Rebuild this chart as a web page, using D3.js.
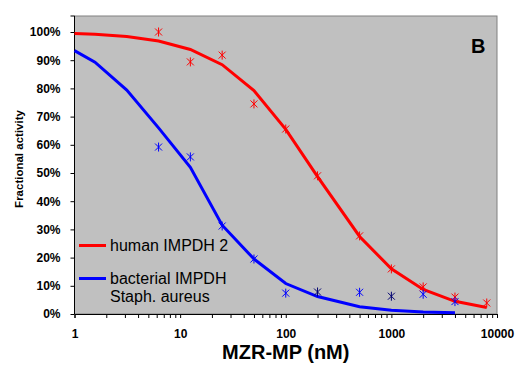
<!DOCTYPE html>
<html>
<head>
<meta charset="utf-8">
<script src="https://cdn.jsdelivr.net/npm/d3@7"></script>
<style>
    body { margin: 0; background: white; }
    text { font-family: Arial, "Liberation Sans", sans-serif; }
</style>
</head>
<body>
<div id="chart"></div>
<script>
// concentrations (nM)
const doses = [6.25, 12.5, 25, 50, 100, 200, 500, 1000, 2000, 4000, 8000];
const humanPts = [1.00, 0.894, 0.918, 0.745, 0.656, 0.49, 0.277, 0.16, 0.096, 0.06, 0.039];
const bactDoses = [6.25, 12.5, 25, 50, 100, 200, 500, 1000, 2000, 4000];
const bactPts = [0.592, 0.557, 0.312, 0.195, 0.074, 0.078, 0.077, 0.063, 0.07, 0.044];
const bactColor = ["blue", "blue", "blue", "blue", "blue", "#000070", "blue", "#000070", "blue", "blue"];

// fitted curves
const humanFitX = [1, 1.5625, 3.125, 6.25, 12.5, 25, 50, 100, 200, 500, 1000, 2000, 4000, 8000];
const humanFitY = [0.995, 0.992, 0.984, 0.968, 0.938, 0.884, 0.792, 0.655, 0.487, 0.275, 0.16, 0.087, 0.045, 0.023];
const bactFitX = [1, 1.5625, 3.125, 6.25, 12.5, 25, 50, 100, 200, 500, 1000, 2000, 4000];
const bactFitY = [0.934, 0.893, 0.794, 0.66, 0.52, 0.315, 0.195, 0.108, 0.062, 0.026, 0.013, 0.007, 0.004];

const yTicks = [0, 0.1, 0.2, 0.3, 0.4, 0.5, 0.6, 0.7, 0.8, 0.9, 1.0];
const xMajor = [1, 10, 100, 1000, 10000];

const width = 523;
const height = 376;
const plot = {l: 74.5, r: 497, t: 16, b: 314};

const svg = d3.select("#chart")
    .append("svg")
    .attr("width", width)
    .attr("height", height);

const xScale = d3.scaleLog()
    .domain([1, 10000])
    .range([plot.l, plot.r]);

const yScale = d3.scaleLinear()
    .domain([0, 1])
    .range([plot.b, 32]);

//plot background
svg.append("rect")
    .attr("x", plot.l)
    .attr("y", plot.t)
    .attr("width", plot.r - plot.l)
    .attr("height", plot.b - plot.t)
    .attr("fill", "#c0c0c0")
    .attr("stroke", "#808080")
    .attr("stroke-width", 1);

//x axis, with minor ticks
const xTickVals = [];
for (let d = 1; d < 10000; d *= 10) {
    for (let k = 1; k < 10; k++) xTickVals.push(d * k);
}
xTickVals.push(10000);

const x_axis = d3.axisBottom(xScale)
    .tickValues(xTickVals)
    .tickSize(4)
    .tickPadding(11)
    .tickFormat(d => xMajor.includes(d) ? d3.format("d")(d) : "");
const gx = svg.append("g")
    .attr("transform", `translate(0, ${plot.b})`)
    .call(x_axis);
gx.select(".domain").attr("stroke", "black");
gx.selectAll("text")
    .attr("font-size", "12px")
    .attr("font-weight", "bold")
    .attr("fill", "black");

//y axis
const y_axis = d3.axisLeft(yScale)
    .tickValues(yTicks)
    .tickSize(4)
    .tickPadding(10)
    .tickFormat(d3.format(".0%"));
const gy = svg.append("g")
    .attr("transform", `translate(${plot.l}, 0)`)
    .call(y_axis);
gy.select(".domain").attr("d", `M-4,${plot.t}H0V${plot.b}`).attr("stroke", "black");
gy.selectAll("text")
    .attr("font-size", "12px")
    .attr("font-weight", "bold")
    .attr("fill", "black");

//titles
svg.append("text")
    .attr("x", (plot.l + plot.r) / 2)
    .attr("y", 358.5)
    .attr("text-anchor", "middle")
    .attr("font-size", "20px")
    .attr("font-weight", "bold")
    .text("MZR-MP (nM)");

svg.append("text")
    .attr("transform", "rotate(-90)")
    .attr("x", -159)
    .attr("y", 22.5)
    .attr("text-anchor", "middle")
    .attr("font-size", "11.5px")
    .attr("font-weight", "bold")
    .text("Fractional activity");

svg.append("text")
    .attr("x", 471)
    .attr("y", 53)
    .attr("font-size", "20px")
    .attr("font-weight", "bold")
    .text("B");

//fitted curves
const makeLine = d3.line()
    .x(d => xScale(d[0]))
    .y(d => yScale(d[1]));

svg.append("path")
    .attr("fill", "none")
    .attr("stroke", "red")
    .attr("stroke-width", 3)
    .attr("d", makeLine(d3.zip(humanFitX, humanFitY)));

svg.append("path")
    .attr("fill", "none")
    .attr("stroke", "blue")
    .attr("stroke-width", 3)
    .attr("d", makeLine(d3.zip(bactFitX, bactFitY)));

//asterisk markers
const star = "M-3.5,-3.5L3.5,3.5M-3.5,3.5L3.5,-3.5M0,-4.5L0,4.5";
svg.selectAll(".hPt")
    .data(d3.zip(doses, humanPts))
    .join("path")
    .attr("class", "hPt")
    .attr("transform", d => `translate(${xScale(d[0])}, ${yScale(d[1])})`)
    .attr("d", star)
    .attr("stroke", "red")
    .attr("stroke-width", 1)
    .attr("fill", "none");

svg.selectAll(".bPt")
    .data(d3.zip(bactDoses, bactPts, bactColor))
    .join("path")
    .attr("class", "bPt")
    .attr("transform", d => `translate(${xScale(d[0])}, ${yScale(d[1])})`)
    .attr("d", star)
    .attr("stroke", d => d[2])
    .attr("stroke-width", 1)
    .attr("fill", "none");

//legend
const legend = [
    {color: "red", y: 245.5, lines: ["human IMPDH 2"]},
    {color: "blue", y: 278.5, lines: ["bacterial IMPDH", "Staph. aureus"]}
];
legend.forEach(item => {
    svg.append("line")
        .attr("x1", 79)
        .attr("x2", 106)
        .attr("y1", item.y)
        .attr("y2", item.y)
        .attr("stroke", item.color)
        .attr("stroke-width", 3);
    item.lines.forEach((t, i) => {
        svg.append("text")
            .attr("x", 110)
            .attr("y", item.y + 5 + i * 18.5)
            .attr("font-size", "16px")
            .text(t);
    });
});
</script>
</body>
</html>
